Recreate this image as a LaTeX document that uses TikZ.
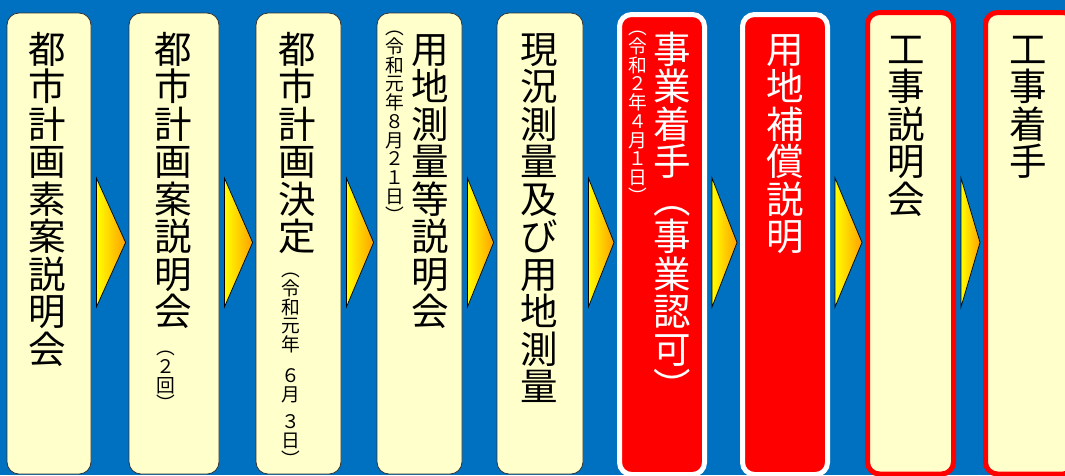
\documentclass[tikz,border=0pt]{standalone}
\usepackage{fontspec}
\newfontfamily\jp{Noto Sans CJK JP}
\usetikzlibrary{calc}
\pgfdeclarelayer{bg}
\pgfdeclarelayer{background}
\pgfsetlayers{bg,background,main}
\definecolor{bgblue}{RGB}{0,112,192}
\definecolor{cream}{RGB}{255,255,204}
\definecolor{arrorange}{RGB}{255,160,0}
\newcommand{\firststrut}{\rule[-0.12em]{0pt}{1em}}
\begin{document}
\lineskiplimit=-100pt
\begin{tikzpicture}[x=1pt,y=-1pt,
  box/.style={rectangle, rounded corners=12pt, draw=black!80, line width=0.8pt, fill=cream, inner sep=0pt},
  redbox/.style={box, fill=red, draw=white, line width=5pt},
  redframe/.style={box, draw=red, line width=5pt},
  maintext/.style={anchor=north, inner sep=0pt, align=center, text=black,
    font=\jp\fontsize{37.5}{37.5}\selectfont},
  smalltext/.style={maintext, font=\jp\fontsize{18.75}{18.75}\selectfont},
  arrowshape/.style={draw=black, line width=0.7pt, left color=yellow, middle color=yellow!90!orange, right color=arrorange}]
\useasboundingbox (0,0) rectangle (1065,475);
\begin{pgfonlayer}{bg}
\fill[bgblue] (0,0) rectangle (1065,475);
\end{pgfonlayer}
\clip (0,0) rectangle (1065,475);
% boxes
\node[box, minimum width=84pt, minimum height=461pt] (b1) at (49,243.5) {};
\node[box, minimum width=90pt, minimum height=461pt] (b2) at (174,243.5) {};
\node[box, minimum width=85pt, minimum height=461pt] (b3) at (298.5,243.5) {};
\node[box, minimum width=85pt, minimum height=461pt] (b4) at (419.5,243.5) {};
\node[box, minimum width=86pt, minimum height=461pt] (b5) at (540,243.5) {};
\node[redbox, minimum width=85pt, minimum height=460pt] (b6) at (662,244.5) {};
\node[redbox, minimum width=85pt, minimum height=460pt] (b7) at (785,244.5) {};
\node[redframe, minimum width=86pt, minimum height=461.5pt] (b8) at (910.5,243.25) {};
\node[redframe, minimum width=89.5pt, minimum height=461.5pt] (b9) at (1030.25,243.25) {};
% arrows
\coordinate (atop) at (0,178);
\coordinate (atip) at (0,242.5);
\coordinate (abot) at (0,307);
\begin{pgfonlayer}{background}
\foreach \a/\b in {b1/b2,b2/b3,b3/b4,b4/b5,b5/b6,b6/b7,b7/b8,b8/b9}{
  \path[arrowshape] ($(\a.east |- atop)+(5,0)$) -- ($(\b.west |- atip)+(-3,0)$) -- ($(\a.east |- abot)+(5,0)$) -- cycle;
}
\end{pgfonlayer}
% texts
\node[maintext] (t1) at (47,30) {\firststrut 都\\市\\計\\画\\素\\案\\説\\明\\会};
\node[maintext] (t2) at (173,30) {\firststrut 都\\市\\計\\画\\案\\説\\明\\会};
\node[smalltext] (s2) at (166,338) {\firststrut ︵\\２\\回\\︶};
\node[maintext] (t3) at (297,30) {\firststrut 都\\市\\計\\画\\決\\定};
\node[smalltext] (s3) at (291,260) {\firststrut ︵\\令\\和\\元\\年\\[12pt]６\\月\\[9pt]３\\日\\︶};
\node[maintext] (t4) at (430,30) {\firststrut 用\\地\\測\\量\\等\\説\\明\\会};
\node[smalltext] (s4) at (395,18) {\firststrut ︵\\令\\和\\元\\年\\８\\月\\２\\１\\日\\︶};
\node[maintext] (t5) at (539,30) {\firststrut 現\\況\\測\\量\\及\\び\\用\\地\\測\\量};
\node[maintext, text=white] (t6) at (672,30) {\firststrut 事\\業\\着\\手\\︵\\事\\業\\認\\可\\︶};
\node[smalltext, text=white] (s6) at (638,18) {\firststrut ︵\\令\\和\\２\\年\\４\\月\\１\\日\\︶};
\node[maintext, text=white] (t7) at (785,30) {\firststrut 用\\地\\補\\償\\説\\明};
\node[maintext] (t8) at (906,30) {\firststrut 工\\事\\説\\明\\会};
\node[maintext] (t9) at (1028,30) {\firststrut 工\\事\\着\\手};
\end{tikzpicture}
\end{document}
